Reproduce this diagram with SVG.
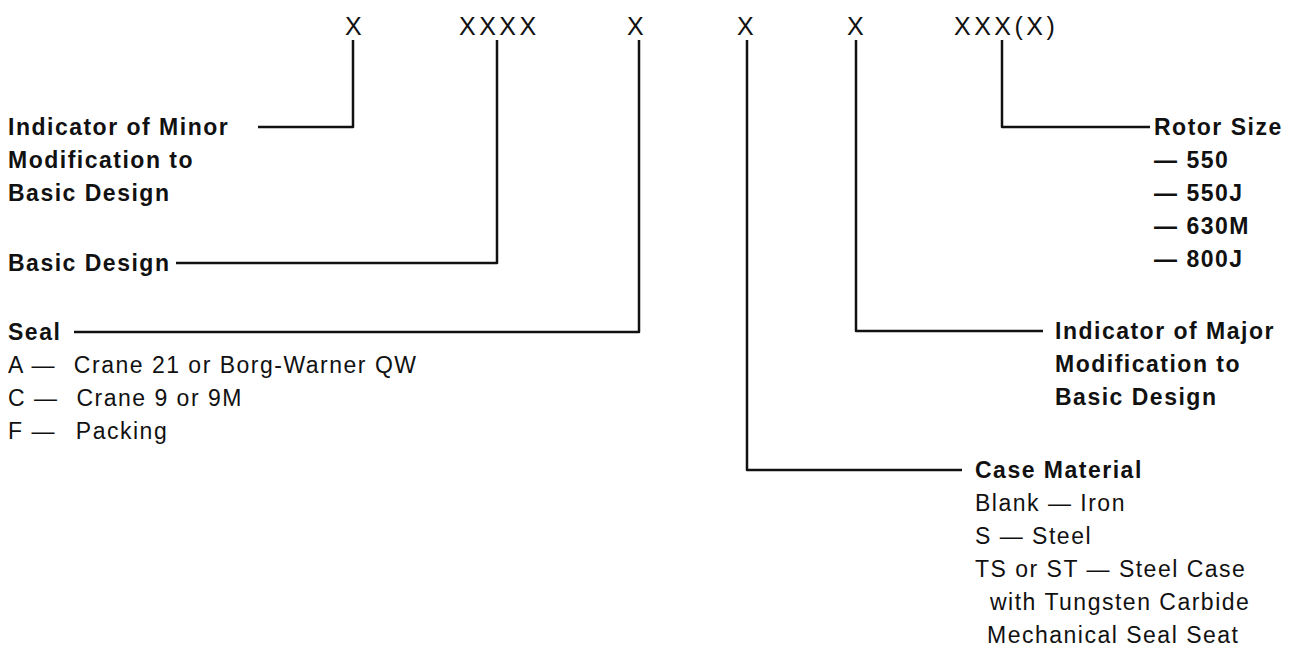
<svg xmlns="http://www.w3.org/2000/svg" width="1295" height="650" viewBox="0 0 1295 650">
<style>
  .code { font-family: "Liberation Sans", Arial, sans-serif; font-size: 25px; letter-spacing: 3.5px; fill: #111; }
  .b { font-family: "Liberation Sans", Arial, sans-serif; font-size: 23px; font-weight: bold; letter-spacing: 1.5px; fill: #111; }
  .r { font-family: "Liberation Sans", Arial, sans-serif; font-size: 23px; letter-spacing: 1.5px; fill: #111; }
  .ln { fill: none; stroke: #111; stroke-width: 2.5; stroke-linejoin: round; }
</style>
<rect width="1295" height="650" fill="#fff"/>
<g id="code">
  <text class="code" x="345" y="35">X</text>
  <text class="code" x="459" y="35">XXXX</text>
  <text class="code" x="627" y="35">X</text>
  <text class="code" x="737" y="35">X</text>
  <text class="code" x="847" y="35">X</text>
  <text class="code" x="954" y="35">XXX(X)</text>
</g>
<g id="connectors">
  <path class="ln" d="M353,40 V127 H258"/>
  <path class="ln" d="M497,40 V263 H176"/>
  <path class="ln" d="M639,40 V332 H74"/>
  <path class="ln" d="M747,40 V470 H962"/>
  <path class="ln" d="M856,40 V331 H1043"/>
  <path class="ln" d="M1002,40 V127 H1150"/>
</g>
<g id="minor">
  <text class="b" x="8" y="135">Indicator of Minor</text>
  <text class="b" x="8" y="168">Modification to</text>
  <text class="b" x="8" y="201">Basic Design</text>
</g>
<g id="basic">
  <text class="b" x="8" y="271">Basic Design</text>
</g>
<g id="seal">
  <text class="b" x="8" y="340">Seal</text>
  <text class="r" x="8" y="373">A — <tspan dx="10">Crane 21 or Borg-Warner QW</tspan></text>
  <text class="r" x="8" y="406">C — <tspan dx="10">Crane 9 or 9M</tspan></text>
  <text class="r" x="8" y="439">F — <tspan dx="12">Packing</tspan></text>
</g>
<g id="rotor">
  <text class="b" x="1154" y="135">Rotor Size</text>
  <text class="b" x="1154" y="168">— 550</text>
  <text class="b" x="1154" y="201">— 550J</text>
  <text class="b" x="1154" y="234">— 630M</text>
  <text class="b" x="1154" y="267">— 800J</text>
</g>
<g id="major">
  <text class="b" x="1055" y="339">Indicator of Major</text>
  <text class="b" x="1055" y="372">Modification to</text>
  <text class="b" x="1055" y="405">Basic Design</text>
</g>
<g id="case">
  <text class="b" x="975" y="478">Case Material</text>
  <text class="r" x="975" y="511">Blank — Iron</text>
  <text class="r" x="975" y="544">S — Steel</text>
  <text class="r" x="975" y="577">TS or ST — Steel Case</text>
  <text class="r" x="990" y="610">with Tungsten Carbide</text>
  <text class="r" x="987" y="643">Mechanical Seal Seat</text>
</g>
</svg>
